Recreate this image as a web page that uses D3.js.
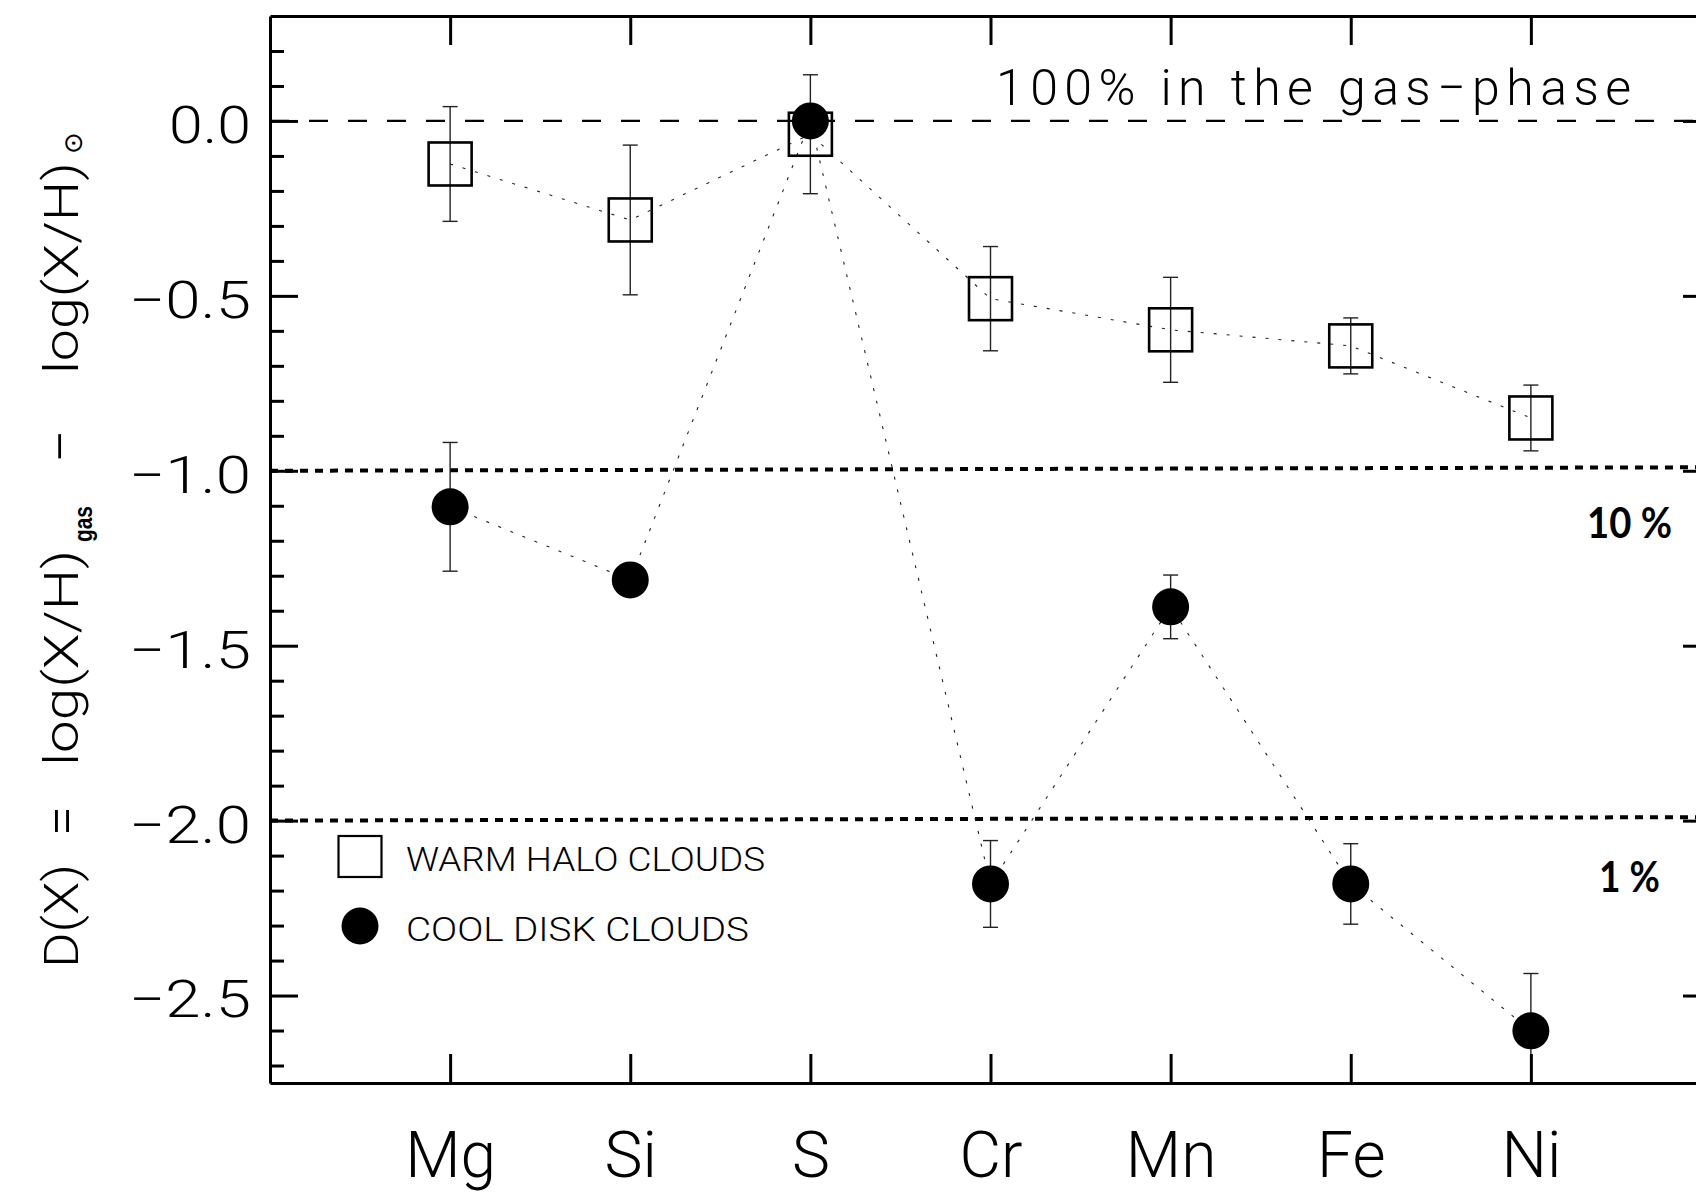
<!DOCTYPE html>
<html>
<head>
<meta charset="utf-8">
<script src="https://cdn.jsdelivr.net/npm/d3@7"></script>
<style>
  html, body { margin: 0; padding: 0; background: #fff; }
  svg { display: block; }
  .thin { font-family: Roboto, "Liberation Sans", sans-serif; font-weight: 300; }
</style>
</head>
<body>
<svg id="chart" width="1696" height="1192"></svg>
<script>
// Element depletions D(X) for the two cloud populations
const elements = ["Mg", "Si", "S", "Cr", "Mn", "Fe", "Ni"];
const warmValues = [-0.123, -0.283, -0.038, -0.508, -0.597, -0.643, -0.849];
const warmErrors = [0.164, 0.214, 0.170, 0.149, 0.150, 0.080, 0.094];
const coolValues = [-1.103, -1.312, 0.000, -2.181, -1.389, -2.181, -2.601];
const coolErrors = [0.184, null, null, 0.124, 0.091, 0.115, 0.164];

// Axis ticks
const yMajorTicks = [0, -0.5, -1.0, -1.5, -2.0, -2.5];
const yTickLabels = ["0.0", "−0.5", "−1.0", "−1.5", "−2.0", "−2.5"];
const yMinorTicks = [0.2, 0.1, -0.1, -0.2, -0.3, -0.4, -0.6, -0.7, -0.8, -0.9,
  -1.1, -1.2, -1.3, -1.4, -1.6, -1.7, -1.8, -1.9, -2.1, -2.2, -2.3, -2.4, -2.6, -2.7];

// Reference levels (value at left edge, value at right edge)
const gasPhaseLevel = [0.0, 0.0];
const tenPercentLevel = [-1.0, -0.99];
const onePercentLevel = [-2.0, -1.99];
const levelLabels = ["100% in the gas−phase", "10 %", "1 %"];
const seriesLabels = ["WARM HALO CLOUDS", "COOL DISK CLOUDS"];

const svg = d3.select("#chart");
const plotLeft = 270, plotRight = 1711, plotTop = 16, plotBottom = 1083;

const x = d3.scaleLinear().domain([0, 8]).range([plotLeft, plotRight]);
const y = d3.scaleLinear().domain([0.3, -2.75]).range([plotTop, plotBottom]);
const xPos = i => x(i + 1);

svg.append("defs").append("clipPath").attr("id", "plotClip")
  .append("rect").attr("x", plotLeft).attr("y", plotTop)
  .attr("width", plotRight - plotLeft).attr("height", plotBottom - plotTop);

const plot = svg.append("g").attr("clip-path", "url(#plotClip)");

// Reference levels
function levelLine(vals, dash, width) {
  plot.append("line")
    .attr("x1", x(0)).attr("x2", x(8))
    .attr("y1", y(vals[0])).attr("y2", y(vals[1]))
    .attr("stroke", "#000").attr("stroke-width", width)
    .attr("stroke-dasharray", dash);
}
levelLine(gasPhaseLevel, "19,20", 2.2);
levelLine(tenPercentLevel, "8,7", 4);
levelLine(onePercentLevel, "8,7", 4);

// Connecting dotted lines
const line = d3.line().x((d, i) => xPos(i)).y(d => y(d));
[warmValues, coolValues].forEach(vals => {
  plot.append("path").datum(vals)
    .attr("d", line)
    .attr("fill", "none").attr("stroke", "#222")
    .attr("stroke-width", 1.1).attr("stroke-dasharray", "3,10");
});

// Error bars
function errorBars(vals, errs) {
  const g = plot.append("g").attr("stroke", "#222").attr("stroke-width", 1.4);
  vals.forEach((v, i) => {
    const e = errs[i];
    if (e == null) return;
    const cx = xPos(i);
    g.append("line").attr("x1", cx).attr("x2", cx).attr("y1", y(v + e)).attr("y2", y(v - e));
    g.append("line").attr("x1", cx - 7.5).attr("x2", cx + 7.5).attr("y1", y(v + e)).attr("y2", y(v + e));
    g.append("line").attr("x1", cx - 7.5).attr("x2", cx + 7.5).attr("y1", y(v - e)).attr("y2", y(v - e));
  });
}
errorBars(warmValues, warmErrors);
errorBars(coolValues, coolErrors);

// Warm halo clouds: open squares
const sq = 43;
plot.append("g").selectAll("rect").data(warmValues).join("rect")
  .attr("x", (d, i) => xPos(i) - sq / 2).attr("y", d => y(d) - sq / 2)
  .attr("width", sq).attr("height", sq)
  .attr("fill", "none").attr("stroke", "#000").attr("stroke-width", 2.6);

// Cool disk clouds: filled circles
plot.append("g").selectAll("circle").data(coolValues).join("circle")
  .attr("cx", (d, i) => xPos(i)).attr("cy", d => y(d)).attr("r", 18.5)
  .attr("fill", "#000");

// Axes
function styleAxis(g) {
  g.selectAll("path.domain").attr("stroke", "#000").attr("stroke-width", 3);
  g.selectAll(".tick line").attr("stroke", "#000").attr("stroke-width", 3);
}
const tickVals = d3.range(1, 8);

svg.append("g").attr("transform", `translate(0,${plotTop})`)
  .call(d3.axisTop(x).tickValues(tickVals).tickSize(-29).tickSizeOuter(0).tickFormat(""))
  .call(styleAxis);

const bottomAxis = svg.append("g").attr("transform", `translate(0,${plotBottom})`)
  .call(d3.axisBottom(x).tickValues(tickVals).tickSize(-29).tickSizeOuter(0)
    .tickPadding(49).tickFormat(d => elements[d - 1]))
  .call(styleAxis);
bottomAxis.selectAll("text")
  .attr("class", "thin").attr("font-size", 64).attr("fill", "#000");

const leftAxis = svg.append("g").attr("transform", `translate(${plotLeft},0)`)
  .call(d3.axisLeft(y).tickValues(yMajorTicks).tickSize(-28).tickSizeOuter(0)
    .tickPadding(19).tickFormat((d, i) => yTickLabels[i]))
  .call(styleAxis);
leftAxis.selectAll("text")
  .attr("class", "thin").attr("font-size", 51).attr("fill", "#000").attr("dy", "0.42em")
  .attr("lengthAdjust", "spacingAndGlyphs")
  .attr("textLength", (d, i) => yTickLabels[i].length === 3 ? 82 : 122);
svg.append("g").attr("transform", `translate(${plotLeft},0)`)
  .call(d3.axisLeft(y).tickValues(yMinorTicks).tickSize(-14).tickSizeOuter(0).tickFormat(""))
  .call(styleAxis).select("path.domain").remove();

svg.append("g").attr("transform", `translate(${plotRight},0)`)
  .call(d3.axisRight(y).tickValues(yMajorTicks).tickSize(-28).tickSizeOuter(0).tickFormat(""))
  .call(styleAxis);
svg.append("g").attr("transform", `translate(${plotRight},0)`)
  .call(d3.axisRight(y).tickValues(yMinorTicks).tickSize(-14).tickSizeOuter(0).tickFormat(""))
  .call(styleAxis).select("path.domain").remove();

// Level annotations
svg.append("text").attr("class", "thin")
  .attr("x", 996).attr("y", 105).attr("font-size", 50)
  .attr("textLength", 635).attr("lengthAdjust", "spacing")
  .text(levelLabels[0]);
svg.append("text")
  .attr("x", 1587).attr("y", 538).attr("font-size", 42)
  .attr("font-family", "Lato, 'Liberation Sans', sans-serif").attr("font-weight", 700)
  .attr("textLength", 85).attr("lengthAdjust", "spacingAndGlyphs")
  .text(levelLabels[1]);
svg.append("text")
  .attr("x", 1599).attr("y", 892).attr("font-size", 42)
  .attr("font-family", "Lato, 'Liberation Sans', sans-serif").attr("font-weight", 700)
  .attr("textLength", 61).attr("lengthAdjust", "spacingAndGlyphs")
  .text(levelLabels[2]);

// Legend
svg.append("rect").attr("x", 338.5).attr("y", 836).attr("width", 43).attr("height", 41)
  .attr("fill", "none").attr("stroke", "#000").attr("stroke-width", 2.2);
svg.append("circle").attr("cx", 360).attr("cy", 926).attr("r", 18.5).attr("fill", "#000");
svg.append("text").attr("class", "thin")
  .attr("x", 406).attr("y", 871).attr("font-size", 33)
  .attr("textLength", 359).attr("lengthAdjust", "spacingAndGlyphs")
  .text(seriesLabels[0]);
svg.append("text").attr("class", "thin")
  .attr("x", 406).attr("y", 941).attr("font-size", 33)
  .attr("textLength", 343).attr("lengthAdjust", "spacingAndGlyphs")
  .text(seriesLabels[1]);

// Y-axis title, rotated; pieces placed along the axis
const title = svg.append("g").attr("transform", "translate(78,0) rotate(-90)");
const pieces = [
  { t: "D(X)", start: 968, len: 104, size: 48 },
  { t: "=", start: 836, len: 30, size: 56, dy: 2 },
  { t: "log(X/H)", start: 766, len: 216, size: 48 },
  { t: "gas", start: 542, len: 36, size: 26, dy: 14, bold: true },
  { t: "−", start: 463, len: 34, size: 56, dy: 2 },
  { t: "log(X/H)", start: 374, len: 212, size: 48 },
  { t: "⊙", start: 154, len: 22, size: 26, dy: 4, sym: true }
];
pieces.forEach(p => {
  const t = title.append("text")
    .attr("x", -p.start).attr("y", p.dy || 0)
    .attr("font-size", p.size)
    .attr("textLength", p.len).attr("lengthAdjust", "spacingAndGlyphs")
    .text(p.t);
  if (p.bold) t.attr("font-family", "'Liberation Sans', sans-serif").attr("font-weight", 700);
  else if (p.sym) t.attr("font-family", "'DejaVu Sans', sans-serif");
  else t.attr("class", "thin");
});
</script>
</body>
</html>
